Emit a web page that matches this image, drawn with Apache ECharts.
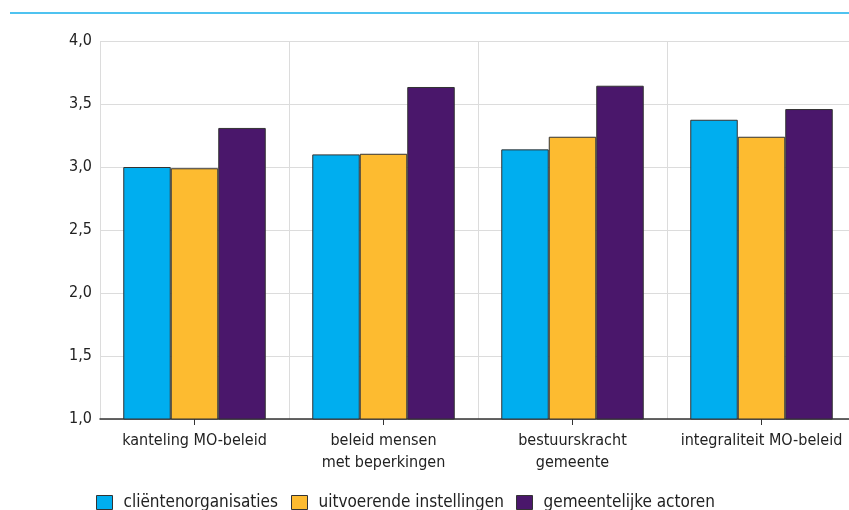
<!DOCTYPE html>
<html><head><meta charset="utf-8">
<script src="https://cdn.jsdelivr.net/npm/echarts@6/dist/echarts.min.js"></script>
<style>html,body{margin:0;padding:0;background:#fff}#c{width:849px;height:510px}</style>
</head><body><div id="c"></div>
<script>
const categories = ['kanteling MO-beleid', 'beleid mensen\nmet beperkingen', 'bestuurskracht\ngemeente', 'integraliteit MO-beleid'];
const seriesNames = ['cliëntenorganisaties', 'uitvoerende instellingen', 'gemeentelijke actoren'];
const clienten = [3.00, 3.10, 3.14, 3.375];
const uitvoerend = [2.99, 3.105, 3.24, 3.24];
const gemeentelijk = [3.31, 3.635, 3.645, 3.46];
const colors = ['#00aeef', '#fdbb30', '#4a176b'];
const legendLeft = [96, 291, 516];
const FONT = '"Liberation Sans Narrow", "DejaVu Sans Condensed", "Noto Sans", sans-serif';
const chart = echarts.init(document.getElementById('c'), null, {renderer: 'canvas'});
const dataSets = [clienten, uitvoerend, gemeentelijk];
chart.setOption({
  animation: false,
  textStyle: {fontFamily: FONT},
  graphic: [{type: 'line', shape: {x1: 10, y1: 13, x2: 849, y2: 13}, style: {stroke: '#4fc3f0', lineWidth: 2}}],
  grid: {left: 100, width: 756, top: 41, height: 378, outerBoundsMode: 'none'},
  legend: seriesNames.map((n, i) => ({
    left: legendLeft[i], top: 494, itemWidth: 16, itemHeight: 14, padding: 0,
    textStyle: {fontSize: 17, color: '#222', fontFamily: FONT, padding: [0, 0, 0, 6]},
    data: [{name: n, icon: 'rect', itemStyle: {color: colors[i], borderColor: '#333', borderWidth: 1}}]
  })),
  xAxis: {
    type: 'category', data: categories,
    axisLine: {lineStyle: {color: '#333', width: 1.5}},
    axisTick: {show: true, alignWithLabel: true, interval: 0, length: 6, lineStyle: {color: '#333', width: 1}},
    axisLabel: {interval: 0, fontSize: 16, color: '#222', margin: 11, lineHeight: 22, fontFamily: FONT},
    splitLine: {show: true, interval: 0, lineStyle: {color: '#dcdcdc', width: 1}}
  },
  yAxis: {
    type: 'value', min: 1, max: 4, interval: 0.5,
    axisLine: {show: false}, axisTick: {show: false},
    axisLabel: {fontSize: 16, color: '#222', margin: 8, fontFamily: FONT, formatter: v => v.toFixed(1).replace('.', ',')},
    splitLine: {lineStyle: {color: '#dcdcdc', width: 1}}
  },
  series: seriesNames.map((n, i) => ({
    name: n, type: 'bar', data: dataSets[i], barWidth: 47.5, barGap: '0%',
    itemStyle: {color: colors[i], borderColor: '#333', borderWidth: 1}
  }))
});
</script></body></html>
